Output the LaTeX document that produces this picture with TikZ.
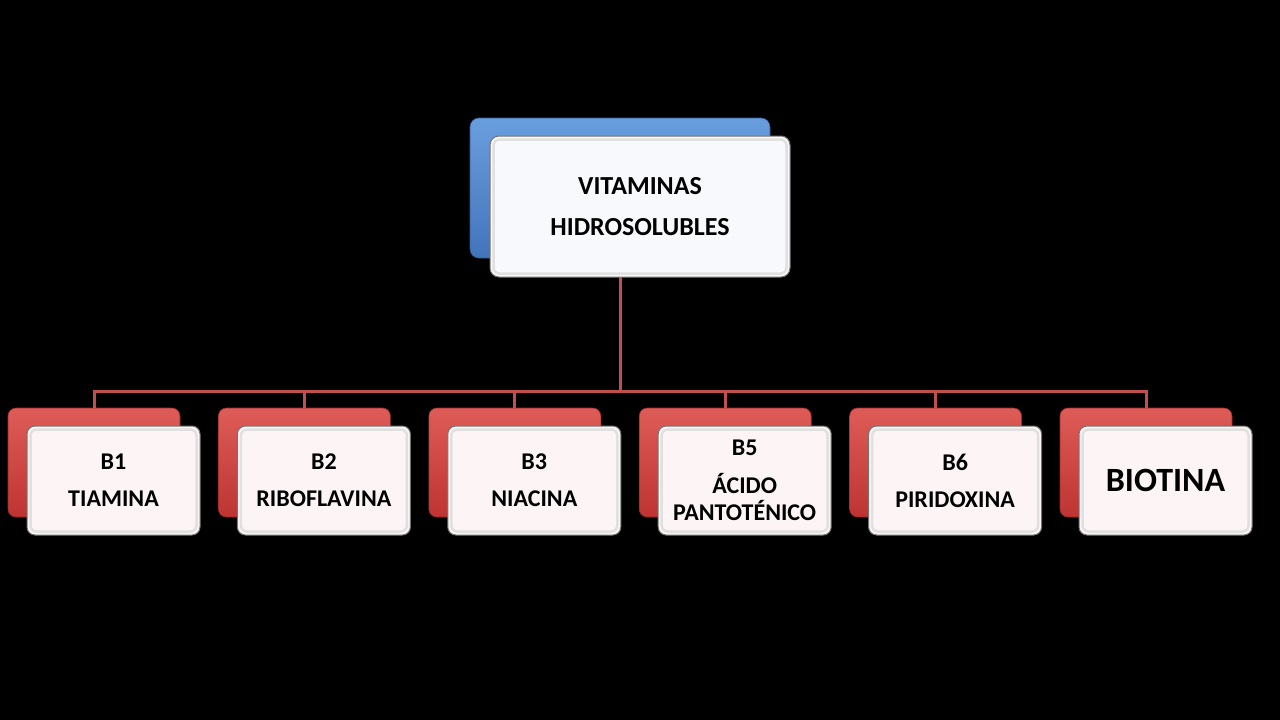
\documentclass[tikz,border=0pt]{standalone}
\usepackage{fontspec}
\setmainfont{Carlito}
\definecolor{linered}{RGB}{192,80,77}
\definecolor{redtop}{RGB}{222,92,88}
\definecolor{redbot}{RGB}{190,52,50}
\definecolor{bluetop}{RGB}{105,158,222}
\definecolor{bluebot}{RGB}{66,116,186}
\definecolor{pinkwhite}{RGB}{253,245,245}
\definecolor{bluewhite}{RGB}{247,249,252}
\begin{document}
\begin{tikzpicture}[x=1pt,y=-1pt,
  conn/.style={draw=linered,line width=3pt},
  backred/.style={rounded corners=8pt,minimum width=172pt,minimum height=109pt,top color=redtop,bottom color=redbot,draw=redbot!80!black,line width=0.6pt,inner sep=0pt},
  backblue/.style={rounded corners=9pt,minimum width=300pt,minimum height=140pt,top color=bluetop,bottom color=bluebot,draw=bluebot!80!black,line width=0.6pt,inner sep=0pt},
  frontlow/.style={rounded corners=8pt,minimum width=173pt,minimum height=109pt,fill=pinkwhite,draw=black!55,line width=1pt,inner sep=0pt,align=center,font=\bfseries\fontsize{24}{37}\selectfont},
  fronttop/.style={rounded corners=9pt,minimum width=300pt,minimum height=141pt,fill=bluewhite,draw=black!55,line width=1pt,inner sep=0pt,align=center,font=\bfseries\fontsize{26}{41}\selectfont},
  bevel/.style={draw=black!12,line width=2.5pt,rounded corners=6pt}
]
\useasboundingbox[fill=black] (0,0) rectangle (1280,720);

% back boxes
\node[backblue] (tb) at (620,188) {};
\foreach \i/\nm in {0/b1,1/b2,2/b3,3/b5,4/b6,5/bio}{
  \node[backred] (k\nm) at ({94+210.4*\i},462.5) {};
}
% connectors
\coordinate (bus) at (620,391);
\draw[conn] (tb.south) -- (bus);
\foreach \nm in {b1,b2,b3,b5,b6,bio}{
  \draw[conn] (bus) -| (k\nm.north);
}
% front boxes
\node[fronttop] (tf) at (640,206.5) {VITAMINAS\\HIDROSOLUBLES};
\node[frontlow] (fb1) at (113.5,480.5) {B1\\TIAMINA};
\node[frontlow] (fb2) at (323.9,480.5) {B2\\RIBOFLAVINA};
\node[frontlow] (fb3) at (534.3,480.5) {B3\\NIACINA};
\node[frontlow,font=\bfseries\fontsize{24}{27}\selectfont] (fb5) at (744.7,480.5) {B5\\[11pt]ÁCIDO\\PANTOTÉNICO};
\node[frontlow] (fb6) at (955.1,480.5) {B6\\PIRIDOXINA};
\node[frontlow,font=\bfseries\fontsize{34}{40}\selectfont] (fbio) at (1165.5,480.5) {BIOTINA};
% bevels
\foreach \nm in {tf,fb1,fb2,fb3,fb5,fb6,fbio}{
  \draw[bevel] ([xshift=4pt,yshift=-4pt]\nm.north west) rectangle ([xshift=-4pt,yshift=4pt]\nm.south east);
}
\end{tikzpicture}
\end{document}
